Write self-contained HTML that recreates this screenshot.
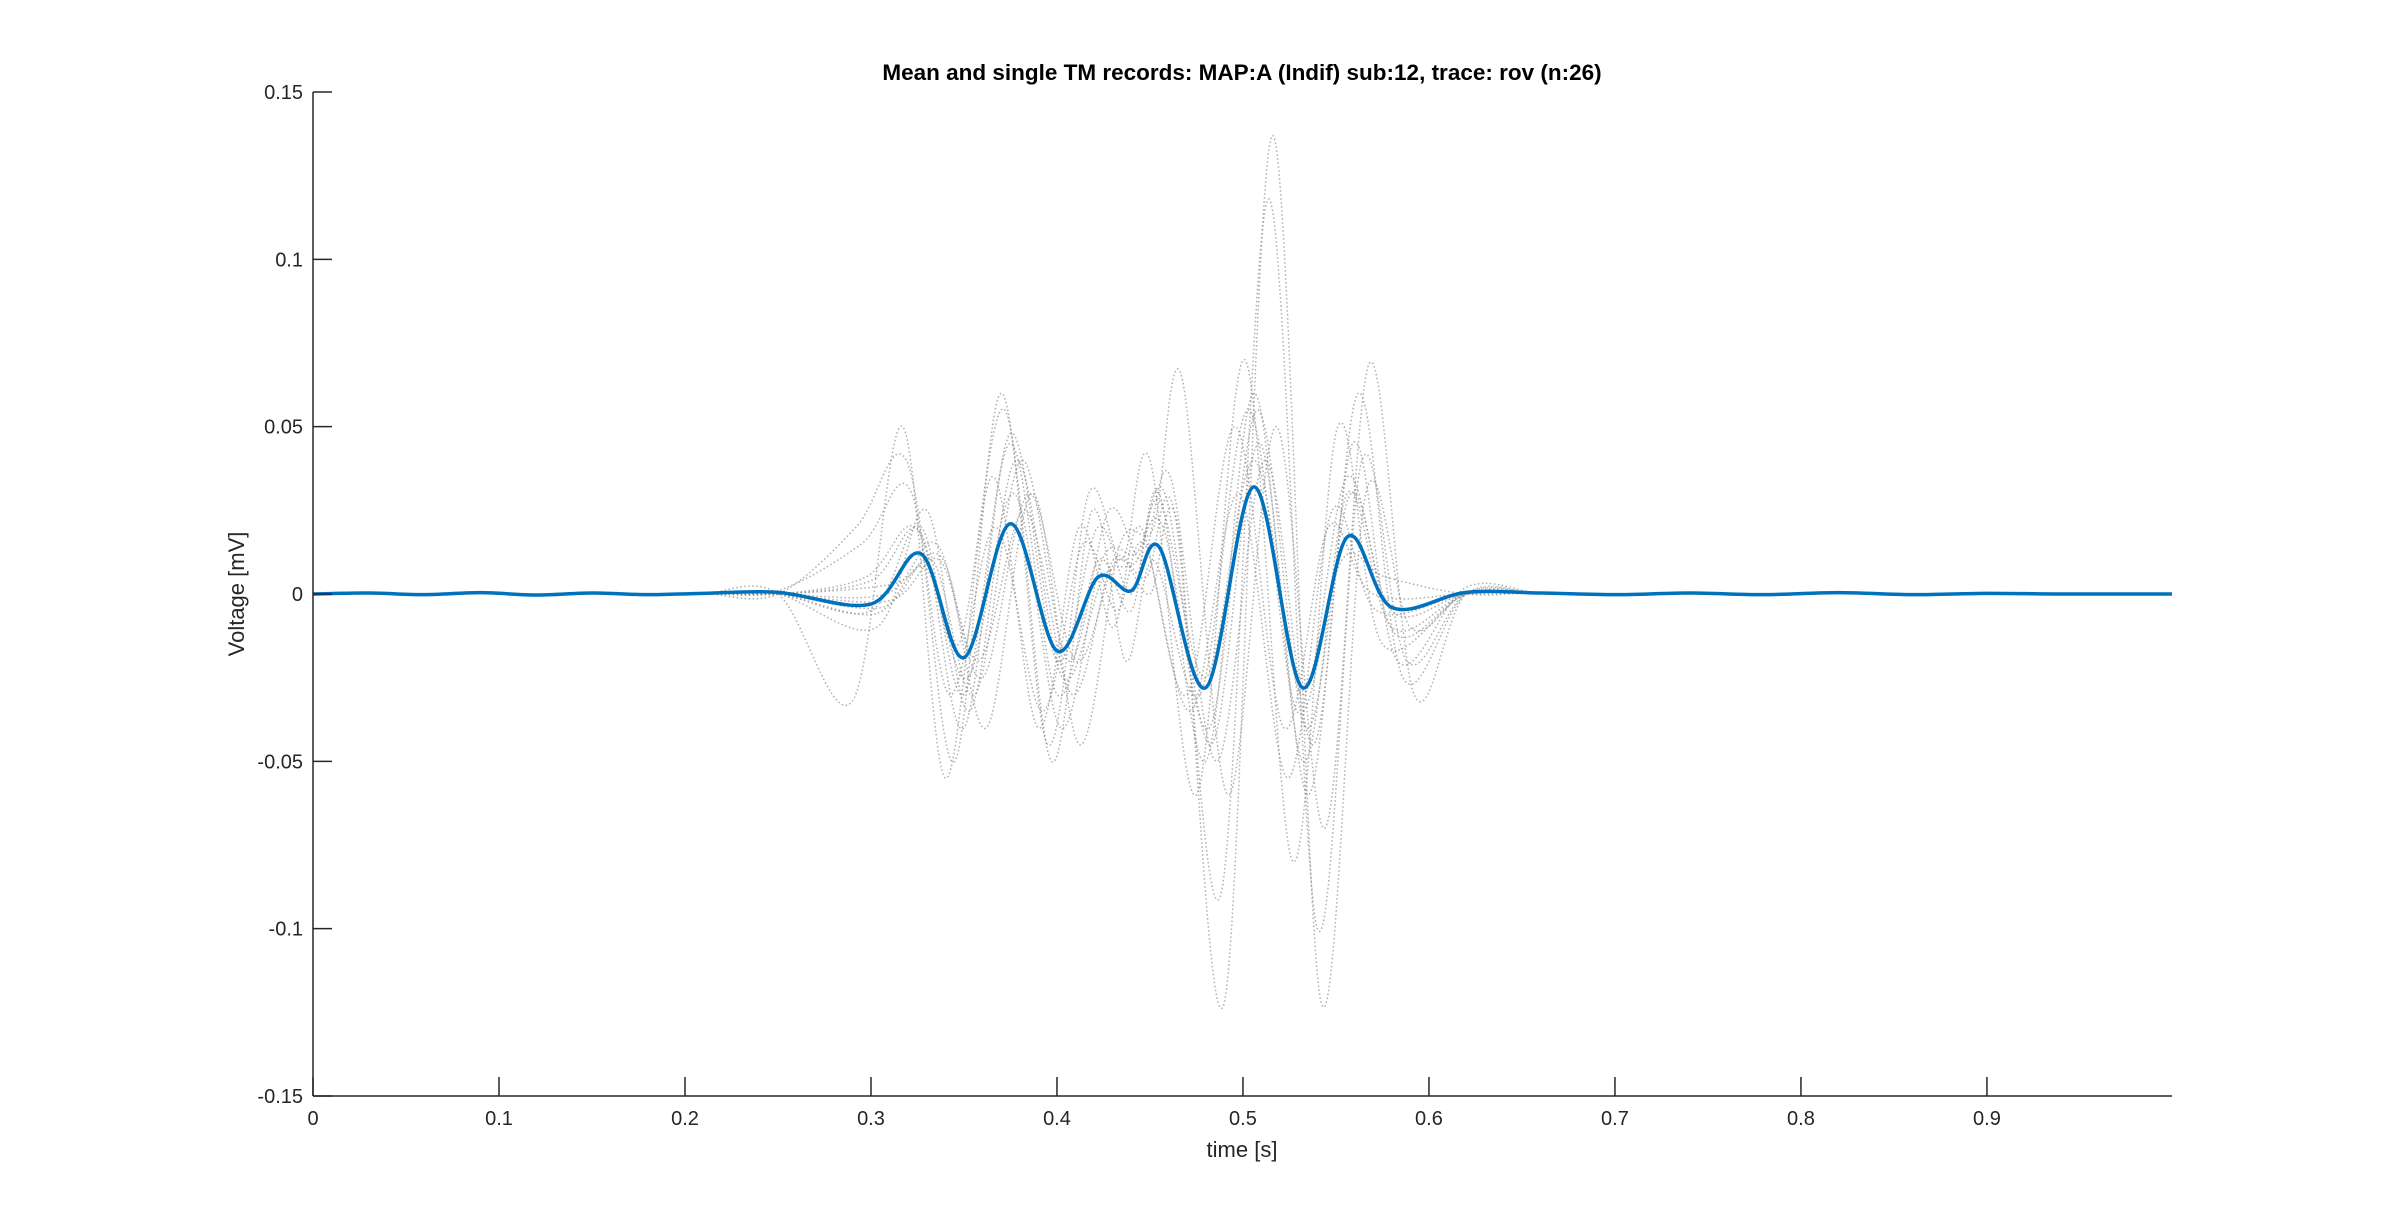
<!DOCTYPE html>
<html><head><meta charset="utf-8"><style>
html,body{margin:0;padding:0;background:#fff;}
svg{display:block;}
text{font-family:"Liberation Sans",Arial,sans-serif;fill:#262626;}
</style></head><body>
<svg id="chart" width="2400" height="1232" viewBox="0 0 2400 1232" xmlns="http://www.w3.org/2000/svg">
<rect width="2400" height="1232" fill="#fff"/>
<text x="1242" y="80" text-anchor="middle" font-size="22.5" font-weight="bold" style="fill:#000">Mean and single TM records: MAP:A (Indif) sub:12, trace: rov (n:26)</text>
<g id="traces"></g>
<g id="meang"></g>
<g id="axes"></g>
<text transform="translate(244,594) rotate(-90)" text-anchor="middle" font-size="22">Voltage [mV]</text>
<text x="1242" y="1157" text-anchor="middle" font-size="22">time [s]</text>
</svg>
<script>
// ---- data ----
const baseTimes = [0, 0.03, 0.06, 0.09, 0.12, 0.15, 0.18, 0.21];
const baseVals = [0, 0.0003, -0.0002, 0.0004, -0.0003, 0.0003, -0.0002, 0.0002];
const keyTimes = [0.25, 0.30, 0.327, 0.35, 0.375, 0.40, 0.422, 0.44, 0.455, 0.48, 0.506, 0.532, 0.556, 0.58, 0.62];
const tailTimes = [0.66, 0.70, 0.74, 0.78, 0.82, 0.86, 0.90, 0.94, 0.9995];
const tailVals = [0.0003, -0.0002, 0.0003, -0.0002, 0.0004, -0.0002, 0.0002, 0, 0];
const meanVals = [0.0005, -0.003, 0.012, -0.019, 0.021, -0.017, 0.005, 0.001, 0.014, -0.028, 0.032, -0.028, 0.017, -0.004, 0.0005];
const traceShifts = [0, 0.01, 0.008, 0.012, -0.01, -0.005, 0.003, -0.003, 0.006, -0.008, 0.002, 0];
const trace1 = [0, -0.005, 0.02, -0.03, 0.045, -0.03, 0.01, -0.005, 0.03, -0.05, 0.06, -0.05, 0.03, -0.01, 0];
const trace2 = [0, -0.002, 0.01, -0.025, 0.03, -0.02, 0.01, 0, 0.02, -0.122, 0.137, -0.122, 0.03, -0.01, 0];
const trace3 = [0, 0, 0.015, -0.02, 0.025, -0.03, 0.01, 0.005, 0.025, -0.09, 0.118, -0.1, 0.04, -0.02, 0];
const trace4 = [0, 0.003, 0.01, -0.04, 0.03, -0.045, 0.015, 0.02, 0.065, -0.06, 0.05, -0.07, 0.069, -0.03, 0];
const trace5 = [0, -0.032, 0.05, -0.055, 0.035, -0.04, 0.02, -0.01, 0.02, -0.03, 0.05, -0.04, 0.02, 0, 0];
const trace6 = [0.001, 0.015, 0.03, -0.05, 0.06, -0.045, 0.03, 0.01, 0.04, -0.06, 0.07, -0.08, 0.05, -0.015, 0];
const trace7 = [0, -0.01, 0.025, -0.035, 0.04, -0.025, 0.005, 0.01, 0.03, -0.045, 0.045, -0.06, 0.045, -0.02, 0.002];
const trace8 = [0, 0.005, 0.02, -0.015, 0.055, -0.05, 0.025, -0.02, 0.01, -0.03, 0.055, -0.035, 0.01, 0.005, 0];
const trace9 = [0, -0.004, 0.01, -0.03, 0.04, -0.02, 0.025, 0.01, 0.035, -0.05, 0.04, -0.045, 0.06, -0.025, 0];
const trace10 = [0, 0.02, 0.04, -0.03, 0.02, -0.035, 0.015, -0.005, 0.015, -0.035, 0.03, -0.055, 0.025, -0.005, 0];
const trace11 = [0, -0.006, 0.008, -0.025, 0.03, -0.04, 0.01, 0.012, 0.02, -0.04, 0.055, -0.04, 0.03, -0.012, 0];
const trace12 = [0, 0.004, 0.018, -0.04, 0.048, -0.02, 0.02, 0, 0.028, -0.025, 0.04, -0.03, 0.035, -0.005, 0];
const traceList = [trace1, trace2, trace3, trace4, trace5, trace6, trace7, trace8, trace9, trace10, trace11, trace12];
const xTicks = [0, 0.1, 0.2, 0.3, 0.4, 0.5, 0.6, 0.7, 0.8, 0.9];
const xTickLabels = ["0", "0.1", "0.2", "0.3", "0.4", "0.5", "0.6", "0.7", "0.8", "0.9"];
const yTicks = [-0.15, -0.1, -0.05, 0, 0.05, 0.1, 0.15];
const yTickLabels = ["-0.15", "-0.1", "-0.05", "0", "0.05", "0.1", "0.15"];

// ---- scales ----
const L = 313, R = 2172, T = 92, B = 1096;
const XMIN = 0, XMAX = 0.9995, YMIN = -0.15, YMAX = 0.15;
const sx = t => L + (t - XMIN) / (XMAX - XMIN) * (R - L);
const sy = v => B - (v - YMIN) / (YMAX - YMIN) * (B - T);
const NS = 'http://www.w3.org/2000/svg';

function splinePath(pts) {
  let d = 'M' + pts[0][0].toFixed(2) + ',' + pts[0][1].toFixed(2);
  for (let i = 0; i < pts.length - 1; i++) {
    const p0 = pts[Math.max(0, i - 1)], p1 = pts[i], p2 = pts[i + 1], p3 = pts[Math.min(pts.length - 1, i + 2)];
    const c1x = p1[0] + (p2[0] - p0[0]) / 6, c1y = p1[1] + (p2[1] - p0[1]) / 6;
    const c2x = p2[0] - (p3[0] - p1[0]) / 6, c2y = p2[1] - (p3[1] - p1[1]) / 6;
    d += 'C' + c1x.toFixed(2) + ',' + c1y.toFixed(2) + ' ' + c2x.toFixed(2) + ',' + c2y.toFixed(2) + ' ' + p2[0].toFixed(2) + ',' + p2[1].toFixed(2);
  }
  return d;
}
function buildPts(vals, shift) {
  const pts = [];
  baseTimes.forEach((t, i) => pts.push([sx(t), sy(baseVals[i] * (1 + shift * 50))]));
  keyTimes.forEach((t, i) => {
    const tt = (i === 0 || i === keyTimes.length - 1) ? t : t + shift;
    pts.push([sx(tt), sy(vals[i])]);
  });
  tailTimes.forEach((t, i) => pts.push([sx(t), sy(tailVals[i] * (1 - shift * 50))]));
  return pts;
}

const tg = document.getElementById('traces');
traceList.forEach((vals, k) => {
  const p = document.createElementNS(NS, 'path');
  
  
  p.setAttribute('d', splinePath(buildPts(vals, traceShifts[k])));
  p.setAttribute('fill', 'none');
  p.setAttribute('stroke', '#8c8c8c');
  p.setAttribute('stroke-opacity', '0.7');
  p.setAttribute('stroke-width', '1.5');
  p.setAttribute('stroke-dasharray', '1.5 2.5');
  tg.appendChild(p);
});

const mg = document.getElementById('meang');
const mp = document.createElementNS(NS, 'path');


mp.setAttribute('d', splinePath(buildPts(meanVals, 0)));
mp.setAttribute('fill', 'none');
mp.setAttribute('stroke', '#0072BD');
mp.setAttribute('stroke-width', '3.5');
mg.appendChild(mp);

const ax = document.getElementById('axes');
function line(x1, y1, x2, y2, name) {
  const l = document.createElementNS(NS, 'line');
  
  
  l.setAttribute('x1', x1); l.setAttribute('y1', y1); l.setAttribute('x2', x2); l.setAttribute('y2', y2);
  l.setAttribute('stroke', '#262626'); l.setAttribute('stroke-width', '1.5');
  ax.appendChild(l);
}
line(L, T, L, B, 'y-axis-line');
line(L, B, R, B, 'x-axis-line');
xTicks.forEach((t, i) => {
  line(sx(t), B, sx(t), B - 19, 'x-tick');
  const tx = document.createElementNS(NS, 'text');
  
  
  tx.setAttribute('x', sx(t)); tx.setAttribute('y', B + 29);
  tx.setAttribute('text-anchor', 'middle'); tx.setAttribute('font-size', '20');
  tx.textContent = xTickLabels[i];
  ax.appendChild(tx);
});
yTicks.forEach((v, i) => {
  line(L, sy(v), L + 19, sy(v), 'y-tick');
  const tx = document.createElementNS(NS, 'text');
  
  
  tx.setAttribute('x', L - 10); tx.setAttribute('y', sy(v) + 7);
  tx.setAttribute('text-anchor', 'end'); tx.setAttribute('font-size', '20');
  tx.textContent = yTickLabels[i];
  ax.appendChild(tx);
});
</script>
</body></html>
